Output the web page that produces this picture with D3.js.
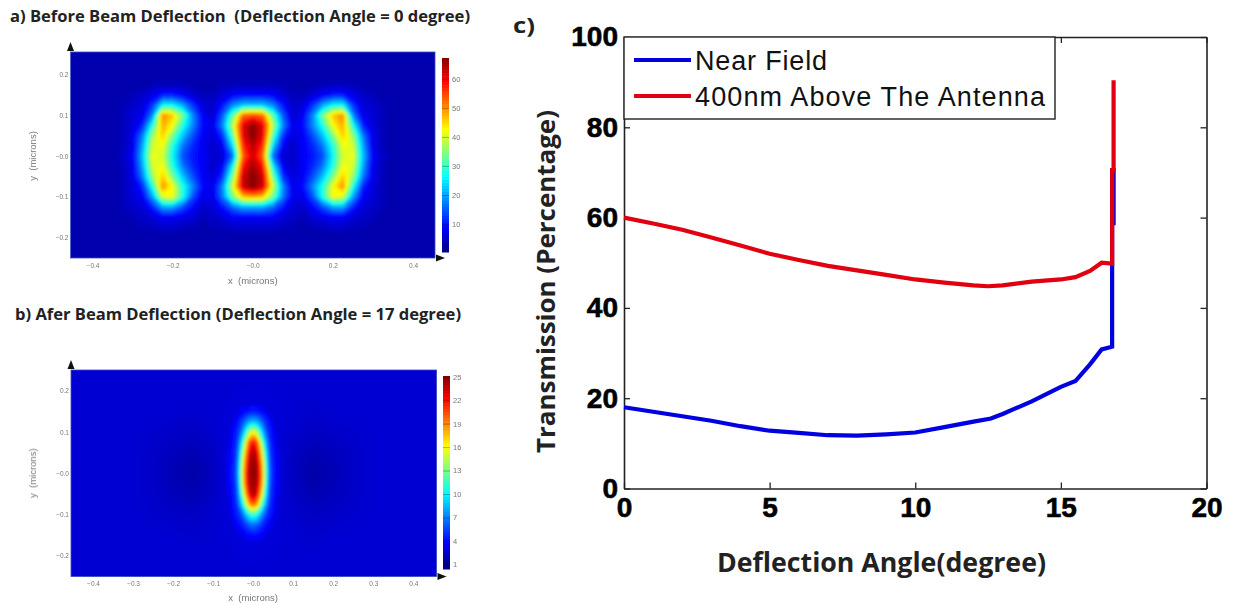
<!DOCTYPE html>
<html>
<head>
<meta charset="utf-8">
<script src="https://cdn.jsdelivr.net/npm/d3@7"></script>
<style>
  html, body { margin: 0; padding: 0; background: #fff; }
  svg { display: block; }
  .small text { font-family: "Liberation Sans", sans-serif; fill: #777; }
</style>
</head>
<body>
<svg id="chart" width="1233" height="605"></svg>
<script>
// panel a: field intensity, rows run top to bottom, columns left to right
const fieldA = [
  [3,3,3,3,3,3,3,3,3,3,3,3,3,3,3,3,3,3,3,3,3,3,3,3,3,3,3,3,3,3,3,3,3,3,3,3,3],
  [3,3,3,3,3,3,3,3,3,3,3,3,3,3,3,3,3,3,3,3,3,3,3,3,3,3,3,3,3,3,3,3,3,3,3,3,3],
  [3,3,3,3,3,3,3,3,3,3,3,3,3,3,3,3,3,3,3,3,3,3,3,3,3,3,3,3,3,3,3,3,3,3,3,3,3],
  [3,3,3,3,3,3,3,3,4,4,4,4,3,3,3,4,4,4,4,4,4,4,3,3,3,4,4,4,4,3,3,3,3,3,3,3,3],
  [3,3,3,3,3,3,4,5,7,10,10,8,6,4,4,6,8,9,9,9,8,6,4,4,6,8,10,10,7,5,4,3,3,3,3,3,3],
  [3,3,3,3,3,4,5,6,12,26,26,20,12,6,5,10,18,22,22,22,18,10,5,6,12,20,26,26,12,6,5,4,3,3,3,3,3],
  [3,3,3,3,3,4,6,7,18,50,46,34,18,8,5,15,32,52,54,52,32,15,5,8,18,34,46,50,18,7,6,4,3,3,3,3,3],
  [3,3,3,3,3,4,6,11,28,48,42,28,18,9,7,18,38,60,67,60,38,18,7,9,18,28,42,48,28,11,6,4,3,3,3,3,3],
  [3,3,3,3,3,4,7,17,36,46,34,22,14,8,6,12,32,60,67,60,32,12,6,8,14,22,34,46,36,17,7,4,3,3,3,3,3],
  [3,3,3,3,3,4,7,20,40,42,28,17,11,8,5,8,24,56,64,56,24,8,5,8,11,17,28,42,40,20,7,4,3,3,3,3,3],
  [3,3,3,3,3,5,8,22,42,40,26,14,10,8,5,6,16,52,62,52,16,6,5,8,10,14,26,40,42,22,8,5,3,3,3,3,3],
  [3,3,3,3,3,4,7,20,40,42,28,17,11,8,5,8,26,58,65,58,26,8,5,8,11,17,28,42,40,20,7,4,3,3,3,3,3],
  [3,3,3,3,3,4,7,17,36,46,34,22,14,8,6,12,34,62,67,62,34,12,6,8,14,22,34,46,36,17,7,4,3,3,3,3,3],
  [3,3,3,3,3,4,6,11,28,50,42,28,18,9,7,18,40,62,67,62,40,18,7,9,18,28,42,50,28,11,6,4,3,3,3,3,3],
  [3,3,3,3,3,4,6,8,20,40,42,28,14,7,7,17,34,46,48,46,34,17,7,7,14,28,42,40,20,8,6,4,3,3,3,3,3],
  [3,3,3,3,3,4,5,6,11,20,20,14,9,5,6,10,16,20,20,20,16,10,6,5,9,14,20,20,11,6,5,4,3,3,3,3,3],
  [3,3,3,3,3,3,4,5,6,8,8,7,6,4,5,6,8,8,8,8,8,6,5,4,6,7,8,8,6,5,4,3,3,3,3,3,3],
  [3,3,3,3,3,3,3,4,4,5,5,4,4,3,4,4,5,5,5,5,5,4,4,3,4,4,5,5,4,4,3,3,3,3,3,3,3],
  [3,3,3,3,3,3,3,3,3,3,3,3,3,3,3,3,3,3,3,3,3,3,3,3,3,3,3,3,3,3,3,3,3,3,3,3,3],
  [3,3,3,3,3,3,3,3,3,3,3,3,3,3,3,3,3,3,3,3,3,3,3,3,3,3,3,3,3,3,3,3,3,3,3,3,3],
  [3,3,3,3,3,3,3,3,3,3,3,3,3,3,3,3,3,3,3,3,3,3,3,3,3,3,3,3,3,3,3,3,3,3,3,3,3]
];

// panel b: coarse background field, and the fine spot in the middle
const fieldB = [
  [2.6,2.6,2.6,2.6,2.6,2.6,2.6,2.6,2.6,2.6,2.6,2.6,2.6,2.6,2.6,2.6,2.6,2.6,2.6],
  [2.6,2.6,2.6,2.6,2.6,2.6,2.6,2.6,2.7,2.8,2.7,2.6,2.6,2.6,2.6,2.6,2.6,2.6,2.6],
  [2.6,2.6,2.6,2.6,2.6,2.6,2.5,2.6,2.8,3.0,2.8,2.6,2.5,2.6,2.6,2.6,2.6,2.6,2.6],
  [2.6,2.6,2.6,2.6,2.5,2.4,2.3,2.5,2.9,3.2,2.9,2.5,2.3,2.4,2.5,2.6,2.6,2.6,2.6],
  [2.6,2.6,2.6,2.6,2.4,2.1,1.9,2.3,3.0,3.4,3.0,2.3,1.9,2.1,2.4,2.6,2.6,2.6,2.6],
  [2.6,2.6,2.6,2.6,2.4,1.9,1.6,2.2,3.1,3.6,3.1,2.2,1.6,1.9,2.4,2.6,2.6,2.6,2.6],
  [2.6,2.6,2.6,2.6,2.4,2.1,1.9,2.3,3.0,3.4,3.0,2.3,1.9,2.1,2.4,2.6,2.6,2.6,2.6],
  [2.6,2.6,2.6,2.6,2.5,2.4,2.3,2.5,2.9,3.2,2.9,2.5,2.3,2.4,2.5,2.6,2.6,2.6,2.6],
  [2.6,2.6,2.6,2.6,2.6,2.6,2.5,2.6,2.8,3.0,2.8,2.6,2.5,2.6,2.6,2.6,2.6,2.6,2.6],
  [2.6,2.6,2.6,2.6,2.6,2.6,2.6,2.6,2.7,2.8,2.7,2.6,2.6,2.6,2.6,2.6,2.6,2.6,2.6],
  [2.6,2.6,2.6,2.6,2.6,2.6,2.6,2.6,2.6,2.6,2.6,2.6,2.6,2.6,2.6,2.6,2.6,2.6,2.6]
];
const spotB = [
  [3.2,3.3,3.4,3.6,3.8,4.0,4.2,4.0,3.8,3.6,3.4,3.3,3.2],
  [3.3,3.6,4.0,5.0,6.5,8.0,8.5,8.0,6.5,5.0,4.0,3.6,3.3],
  [3.4,3.8,4.5,6.5,10,14,16,14,10,6.5,4.5,3.8,3.4],
  [3.5,4.0,5.0,9.0,14,20,22,20,14,9.0,5.0,4.0,3.5],
  [3.6,4.2,5.5,11,17,22.5,24,22.5,17,11,5.5,4.2,3.6],
  [3.7,4.3,6.0,12.5,19,23.5,24.8,23.5,19,12.5,6.0,4.3,3.7],
  [3.8,4.4,6.5,13,20,24,25,24,20,13,6.5,4.4,3.8],
  [3.7,4.3,6.0,12.5,19.5,23.5,24.8,23.5,19.5,12.5,6.0,4.3,3.7],
  [3.6,4.2,5.5,11,17,22.5,24,22.5,17,11,5.5,4.2,3.6],
  [3.5,4.0,5.0,8.5,13,18,20,18,13,8.5,5.0,4.0,3.5],
  [3.4,3.8,4.5,5.5,8.0,10.5,11.5,10.5,8.0,5.5,4.5,3.8,3.4],
  [3.3,3.5,3.8,4.2,5.0,6.0,6.5,6.0,5.0,4.2,3.8,3.5,3.3],
  [3.2,3.3,3.4,3.5,3.7,3.8,4.0,3.8,3.7,3.5,3.4,3.3,3.2]
];

// grid coordinates in microns
const gridXA = d3.range(-18, 19).map(d => d * 0.025);
const gridYA = d3.range(10, -11, -1).map(d => d * 0.025);
const gridXB = d3.range(-9, 10).map(d => d * 0.05);
const gridYB = d3.range(5, -6, -1).map(d => d * 0.05);
const spotXB = d3.range(-6, 7).map(d => d * 0.01);
const spotYB = d3.range(6, -7, -1).map(d => d * 0.025);

const ticksXA = [-0.4, -0.2, 0, 0.2, 0.4];
const ticksXB = [-0.4, -0.3, -0.2, -0.1, 0, 0.1, 0.2, 0.3, 0.4];
const ticksY  = [0.2, 0.1, 0, -0.1, -0.2];
const barTicksA = [10, 20, 30, 40, 50, 60];
const barTicksB = [1, 4, 7, 10, 13, 16, 19, 22, 25];

// panel c: curves, [angle, transmission]
const nearField = [
  [0,18],[1,17],[2,16],[3,15],[4,13.8],[5,12.8],[6,12.3],[7,11.8],[8,11.7],[9,12],
  [10,12.4],[11,13.6],[12,14.8],[12.6,15.5],[13,16.5],[14,19.3],[15,22.5],[15.5,23.8],
  [16,27.5],[16.4,30.8],[16.76,31.4],[16.76,70.5],[16.81,70.5],[16.81,58.3]
];
const above400 = [
  [0,60],[1,58.7],[2,57.3],[3,55.6],[4,53.8],[5,52],[6,50.6],[7,49.3],[8,48.3],[9,47.3],
  [10,46.3],[11,45.6],[12,45],[12.5,44.8],[13,45],[14,45.8],[15,46.3],[15.5,46.8],
  [16,48.2],[16.4,50],[16.76,49.8],[16.76,70.5],[16.81,70.5],[16.81,90.4]
];
const legendNames = ["Near Field", "400nm Above The Antenna"];
const ticksAngle = [0, 5, 10, 15, 20];
const ticksTrans = [0, 20, 40, 60, 80, 100];

const svg = d3.select("#chart");
const defs = svg.append("defs");

function addBlur(id, sd) {
  defs.append("filter").attr("id", id)
    .attr("filterUnits", "userSpaceOnUse")
    .attr("x", -1500).attr("y", -1500).attr("width", 4000).attr("height", 4000)
    .append("feGaussianBlur").attr("stdDeviation", sd);
}
addBlur("blurField", 1.5);
addBlur("blurText", 0.4);

// jet, the stops are fractions of the colorbar range
const jetStops = [0, 0.11, 0.375, 0.5, 0.625, 0.875, 1];
const jetColors = ["#00008f", "#0000ff", "#00ffff", "#80ff80", "#ffff00", "#ff0000", "#800000"];
function jet(lo, hi) {
  return d3.scaleLinear()
    .domain(jetStops.map(d => lo + d * (hi - lo)))
    .range(jetColors)
    .clamp(true);
}

// filled iso-bands of a grid, one path per threshold
function drawField(g, field, gx, gy, x, y, color, thresholds) {
  const w = Math.abs(x(gx[1]) - x(gx[0]));
  const h = Math.abs(y(gy[1]) - y(gy[0]));
  const bands = d3.contours()
    .size([gx.length, gy.length])
    .thresholds(thresholds)(field.flat());
  const toPixels = d3.geoTransform({
    point: function(cx, cy) {
      this.stream.point(x(gx[0]) + (cx - 0.5) * w, y(gy[0]) + (cy - 0.5) * h);
    }
  });
  const path = d3.geoPath(toPixels);
  g.append("g").attr("filter", "url(#blurField)")
    .selectAll("path")
    .data(bands)
    .enter()
    .append("path")
    .attr("d", path)
    .attr("fill", d => color(d.value));
}

// heatmap frame: ticks, labels, colorbar and the two arrows
function drawFrame(p) {
  const g = svg.append("g").attr("class", "small");
  const x = p.x, y = p.y;
  const [x0, x1] = x.range();
  const [y1, y0] = y.range();

  const fmt = d => (d === 0 ? "\u22120.0" : (d < 0 ? "\u2212" : "") + Math.abs(d).toFixed(1));

  const ax = g.append("g").attr("transform", "translate(0," + y1 + ")")
    .call(d3.axisBottom(x).tickValues(p.ticksX).tickSize(0).tickPadding(5).tickFormat(fmt));
  const ay = g.append("g").attr("transform", "translate(" + x0 + ",0)")
    .call(d3.axisLeft(y).tickValues(ticksY).tickSize(0).tickPadding(2).tickFormat(fmt));
  [ax, ay].forEach(a => {
    a.select(".domain").remove();
    a.selectAll("text").attr("font-size", 6.5).attr("filter", "url(#blurText)");
  });

  g.append("text").text("x  (microns)")
    .attr("x", x(0)).attr("y", p.xLabelY)
    .attr("text-anchor", "middle").attr("font-size", 9.5).attr("xml:space", "preserve")
    .attr("filter", "url(#blurText)");
  g.append("text").text("y  (microns)")
    .attr("transform", "translate(36," + y(0) + ") rotate(-90)")
    .attr("text-anchor", "middle").attr("font-size", 9.5).attr("xml:space", "preserve")
    .attr("filter", "url(#blurText)");

  // border and arrows
  g.append("rect")
    .attr("x", x0).attr("y", y0).attr("width", x1 - x0).attr("height", y1 - y0)
    .attr("fill", "none").attr("stroke", "#3b4fc4").attr("stroke-width", 0.8);
  g.append("path")
    .attr("d", d3.line()([[x0 - 3.5, y0 - 1], [x0 + 3.5, y0 - 1], [x0, y0 - 10]]))
    .attr("fill", "#111");
  g.append("path")
    .attr("d", d3.line()([[x1 + 1, y1 - 3.5], [x1 + 1, y1 + 3.5], [x1 + 10, y1]]))
    .attr("fill", "#111");

  // colorbar
  const bar = d3.scaleLinear().domain(p.barDomain).range(p.barRange);
  const steps = d3.range(p.barDomain[0], p.barDomain[1], (p.barDomain[1] - p.barDomain[0]) / 64);
  const stepH = Math.abs(bar(steps[1]) - bar(steps[0]));
  g.append("g").selectAll("rect")
    .data(steps)
    .enter()
    .append("rect")
    .attr("x", p.barX)
    .attr("y", d => bar(d) - stepH)
    .attr("width", 7)
    .attr("height", stepH + 0.5)
    .attr("fill", d => p.color(d));
  const bt = g.append("g").attr("transform", "translate(" + (p.barX + 7) + ",0)")
    .call(d3.axisRight(bar).tickValues(p.barTicks).tickSize(0).tickPadding(3));
  bt.select(".domain").remove();
  bt.selectAll("text").attr("font-size", 7.5).attr("filter", "url(#blurText)");
  bt.selectAll(".tick").append("line")
    .attr("x1", -7).attr("x2", 0)
    .attr("stroke", "#000").attr("stroke-opacity", 0.35).attr("stroke-width", 0.8);
}

function drawHeatA() {
  const x = d3.scaleLinear().domain([-0.455, 0.455]).range([70.5, 435]);
  const y = d3.scaleLinear().domain([-0.25, 0.255]).range([258, 52]);
  const color = jet(1, 67);
  defs.append("clipPath").attr("id", "clipA").append("rect")
    .attr("x", 70.5).attr("y", 52).attr("width", 364.5).attr("height", 206);
  const g = svg.append("g").attr("clip-path", "url(#clipA)");
  g.append("rect").attr("x", 70.5).attr("y", 52).attr("width", 364.5).attr("height", 206)
    .attr("fill", color(3));
  drawField(g, fieldA, gridXA, gridYA, x, y, color, d3.range(3.5, 67.5, 0.5));
  drawFrame({x: x, y: y, ticksX: ticksXA, xLabelY: 284, color: color,
    barDomain: [0.3, 67.2], barRange: [252, 58], barX: 442, barTicks: barTicksA});
}

function drawHeatB() {
  const x = d3.scaleLinear().domain([-0.455, 0.458]).range([71, 436.5]);
  const y = d3.scaleLinear().domain([-0.25, 0.25]).range([576.5, 370]);
  const color = jet(1, 25);
  defs.append("clipPath").attr("id", "clipB").append("rect")
    .attr("x", 71).attr("y", 370).attr("width", 365.5).attr("height", 206.5);
  const g = svg.append("g").attr("clip-path", "url(#clipB)");
  g.append("rect").attr("x", 71).attr("y", 370).attr("width", 365.5).attr("height", 206.5)
    .attr("fill", color(2.6));
  drawField(g, fieldB, gridXB, gridYB, x, y, color, d3.range(1.5, 3.7, 0.1));
  drawField(g, spotB, spotXB, spotYB, x, y, color, d3.range(3.6, 25.2, 0.2));
  drawFrame({x: x, y: y, ticksX: ticksXB, xLabelY: 601, color: color,
    barDomain: [0.4, 25.1], barRange: [569, 376], barX: 443, barTicks: barTicksB});
}

function drawTitles() {
  const t = (s, x, y, size, len) => svg.append("text").text(s)
    .attr("x", x).attr("y", y)
    .attr("font-family", "'Open Sans', sans-serif")
    .attr("font-weight", 700)
    .attr("font-size", size)
    .attr("fill", "#222")
    .attr("xml:space", "preserve")
    .attr("textLength", len)
    .attr("lengthAdjust", "spacingAndGlyphs");
  t("a) Before Beam Deflection  (Deflection Angle = 0 degree)", 10, 22, 16, 460);
  t("b) Afer Beam Deflection (Deflection Angle = 17 degree)", 15, 320, 16, 446);
  t("c)", 513, 33, 22, 22);
  t("Deflection Angle(degree)", 717, 572, 26, 329);
  svg.append("text").text("Transmission (Percentage)")
    .attr("transform", "translate(555,453) rotate(-90)")
    .attr("font-family", "'Open Sans', sans-serif")
    .attr("font-weight", 700).attr("font-size", 25).attr("fill", "#222")
    .attr("textLength", 343).attr("lengthAdjust", "spacingAndGlyphs");
}

function drawCurves() {
  const x = d3.scaleLinear().domain([0, 20]).range([624, 1206.5]);
  const y = d3.scaleLinear().domain([0, 100]).range([488.5, 37]);
  const g = svg.append("g");

  const styleAxis = a => {
    a.selectAll(".domain").attr("stroke", "#222").attr("stroke-width", 1.6);
    a.selectAll(".tick line").attr("stroke", "#222").attr("stroke-width", 1.3);
    a.selectAll("text")
      .attr("font-family", "'Liberation Sans', sans-serif")
      .attr("font-weight", 700).attr("font-size", 28).attr("fill", "#000")
      .attr("stroke", "#000").attr("stroke-width", 0.6);
  };

  g.append("g").attr("transform", "translate(0,488.5)")
    .call(d3.axisBottom(x).tickValues(ticksAngle).tickSizeInner(-6).tickSizeOuter(0).tickPadding(9))
    .call(styleAxis);
  g.append("g").attr("transform", "translate(624,0)")
    .call(d3.axisLeft(y).tickValues(ticksTrans).tickSizeInner(-6).tickSizeOuter(0).tickPadding(6))
    .call(styleAxis);
  g.append("g").attr("transform", "translate(0,37)")
    .call(d3.axisTop(x).tickValues(ticksAngle).tickSizeInner(-6).tickSizeOuter(0).tickFormat(""))
    .call(styleAxis);
  g.append("g").attr("transform", "translate(1206.5,0)")
    .call(d3.axisRight(y).tickValues(ticksTrans).tickSizeInner(-6).tickSizeOuter(0).tickFormat(""))
    .call(styleAxis);

  const line = d3.line().x(d => x(d[0])).y(d => y(d[1]));
  [[nearField, "#0000e0"], [above400, "#e00010"]].forEach(s => {
    g.append("path").attr("d", line(s[0]))
      .attr("fill", "none").attr("stroke", s[1])
      .attr("stroke-width", 4.2).attr("stroke-linejoin", "miter");
  });

  // legend
  g.append("rect")
    .attr("x", 624).attr("y", 37).attr("width", 431).attr("height", 82)
    .attr("fill", "#fff").attr("stroke", "#222").attr("stroke-width", 1.4);
  const colors = ["#0000e0", "#e00010"];
  const rowY = d3.scalePoint().domain(legendNames).range([60, 96]);
  const lens = [132, 350];
  legendNames.forEach((name, i) => {
    g.append("line")
      .attr("x1", 634).attr("x2", 691)
      .attr("y1", rowY(name)).attr("y2", rowY(name))
      .attr("stroke", colors[i]).attr("stroke-width", 4.2);
    g.append("text").text(name)
      .attr("x", 695).attr("y", rowY(name) + 10)
      .attr("font-family", "'Liberation Sans', sans-serif")
      .attr("font-size", 27).attr("fill", "#111")
      .attr("textLength", lens[i]);
  });
}

drawHeatA();
drawHeatB();
drawTitles();
drawCurves();
</script>
</body>
</html>
